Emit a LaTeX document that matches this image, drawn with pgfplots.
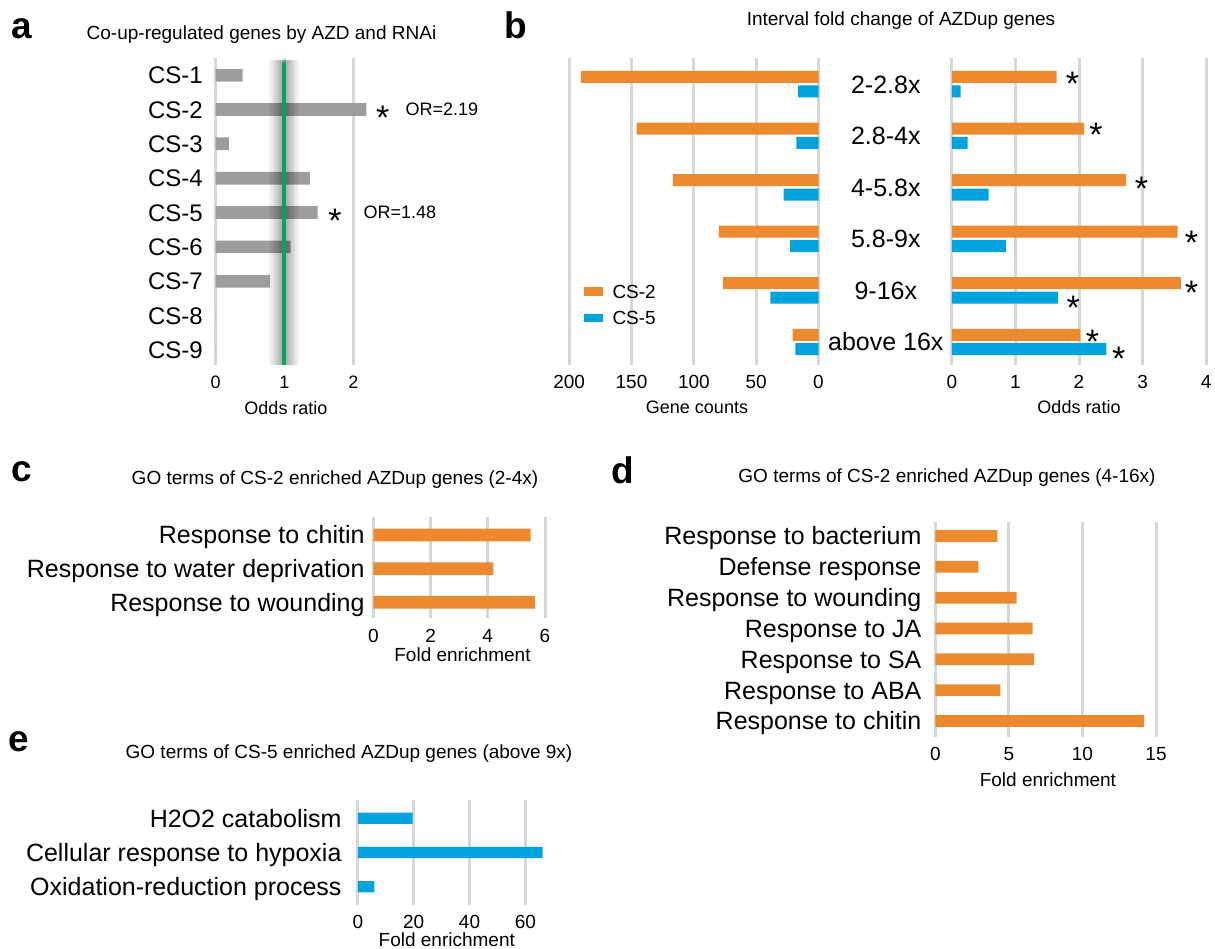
\documentclass[border=0pt]{standalone}
\usepackage{pgfplots}
\pgfplotsset{compat=1.18}
\usepackage{fontspec}
\setmainfont{Liberation Sans}
\definecolor{cor}{RGB}{237,138,47}
\definecolor{cbl}{RGB}{0,163,221}
\definecolor{cgr}{RGB}{157,157,157}
\definecolor{cgrid}{RGB}{213,217,213}
\definecolor{cgreen}{RGB}{0,168,84}
\newcommand{\fs}[1]{\fontsize{#1}{#1}\selectfont}
\pgfplotsset{
  panel/.style={
    scale only axis, anchor=north west,
    axis line style={draw=none},
    major tick length=0pt,
    xmajorgrids, ymajorgrids=false,
    major grid style={line width=3pt, color=cgrid},
    clip=false, enlargelimits=false,
    ytick pos=left, xtick pos=bottom,
    /pgf/number format/assume math mode=true,
    xticklabel style={font=\fs{19}, inner sep=0pt, anchor=north, text height=13.6pt, text depth=0pt, yshift=-10pt},
    yticklabel style={font=\fs{25}, inner sep=0pt, anchor=east, text height=17.9pt, text depth=0pt},
  },
  bars/.style={xbar, bar shift=0pt, bar width=12pt, draw=none},
  shade/.style={black, opacity=0.045, line width=#1},
}
\tikzset{
  star/.style={font=\fs{34}, anchor=base, inner sep=0pt, yshift=-19.5pt},
  lab/.style={inner sep=0pt, anchor=center, text depth=0pt},
  letter/.style={inner sep=0pt, anchor=base west, font=\fs{37}\bfseries},
}
\begin{document}
\begin{tikzpicture}
\path[use as bounding box] (0pt,0pt) rectangle (1215pt,-949pt);

% ---------- panel a ----------
\begin{axis}[panel, at={(215.7pt,-58pt)}, width=192.6pt, height=307pt,
  xmin=0, xmax=2.8, ymin=-9.44, ymax=-0.5,
  xtick={0,1,2}, ytick={-9,-8,-7,-6,-5,-4,-3,-2,-1},
  yticklabels={CS-9,CS-8,CS-7,CS-6,CS-5,CS-4,CS-3,CS-2,CS-1},
  yticklabel style={font=\fs{24}, text height=17.2pt, xshift=-12.7pt},
  xticklabel style={font=\fs{18}, text height=12.9pt}]
\addplot[bars, fill=cgr, bar width=12.7pt] coordinates {(0.39,-1) (2.19,-2) (0.19,-3) (1.37,-4) (1.48,-5) (1.09,-6) (0.79,-7) (0,-8) (0,-9)};
\addplot[shade=30pt] coordinates {(1,-0.55) (1,-9.44)};
\addplot[shade=26pt] coordinates {(1,-0.55) (1,-9.44)};
\addplot[shade=22pt] coordinates {(1,-0.55) (1,-9.44)};
\addplot[shade=19pt] coordinates {(1,-0.55) (1,-9.44)};
\addplot[shade=16pt] coordinates {(1,-0.55) (1,-9.44)};
\addplot[shade=13pt] coordinates {(1,-0.55) (1,-9.44)};
\addplot[shade=10pt] coordinates {(1,-0.55) (1,-9.44)};
\addplot[shade=8pt] coordinates {(1,-0.55) (1,-9.44)};
\addplot[cgreen, line width=4pt] coordinates {(1,-0.616) (1,-9.44)};
\node[star] at (axis cs:2.427,-2) {*};
\node[lab, font=\fs{18}, text height=12.9pt] at (axis cs:3.289,-2) {OR=2.19};
\node[star] at (axis cs:1.734,-5) {*};
\node[lab, font=\fs{18}, text height=12.9pt] at (axis cs:2.679,-5) {OR=1.48};
\end{axis}

% ---------- panel b left ----------
\begin{axis}[panel, at={(569.2pt,-58pt)}, width=249.3pt, height=307pt,
  xmin=-200, xmax=0, ymin=-6.446, ymax=-0.492,
  xtick={-200,-150,-100,-50,0}, xticklabels={200,150,100,50,0}, ytick=\empty,
  legend cell align=left,
  legend image code/.code={\fill[#1] (0pt,-4.15pt) rectangle (19pt,4.15pt);},
  legend style={draw=none, fill=none, at={(axis description cs:0.0566,0.196)}, anchor=west,
    font=\fs{19}, row sep=13pt, column sep=10pt, inner sep=0pt,
    nodes={inner sep=0pt, text height=13.6pt, text depth=0pt}}]
\addplot[bars, fill=cor] coordinates {(-190.6,-0.86) (-146,-1.86) (-116.8,-2.86) (-80,-3.86) (-76.7,-4.86) (-20.8,-5.86)};
\addplot[bars, fill=cbl] coordinates {(-16.4,-1.14) (-17.8,-2.14) (-28,-3.14) (-23,-4.14) (-38.7,-5.14) (-18.6,-6.14)};
\legend{CS-2,CS-5}
\end{axis}

% ---------- panel b right ----------
\begin{axis}[panel, at={(951.8pt,-58pt)}, width=254.4pt, height=307pt,
  xmin=0, xmax=4, ymin=-6.446, ymax=-0.492,
  xtick={0,1,2,3,4}, ytick={-6,-5,-4,-3,-2,-1},
  yticklabels={above 16x,9-16x,5.8-9x,4-5.8x,2.8-4x,2-2.8x},
  yticklabel style={anchor=center, xshift=-66pt}]
\addplot[bars, fill=cor] coordinates {(1.65,-0.86) (2.08,-1.86) (2.74,-2.86) (3.55,-3.86) (3.60,-4.86) (2.02,-5.86)};
\addplot[bars, fill=cbl] coordinates {(0.14,-1.14) (0.25,-2.14) (0.58,-3.14) (0.85,-4.14) (1.67,-5.14) (2.43,-6.14)};
\node[star] at (axis cs:1.896,-0.841) {*};
\node[star] at (axis cs:2.267,-1.830) {*};
\node[star] at (axis cs:2.984,-2.877) {*};
\node[star] at (axis cs:3.770,-3.925) {*};
\node[star] at (axis cs:3.770,-4.895) {*};
\node[star] at (axis cs:1.910,-5.185) {*};
\node[star] at (axis cs:2.211,-5.845) {*};
\node[star] at (axis cs:2.626,-6.175) {*};
\end{axis}

% ---------- panel c ----------
\begin{axis}[panel, at={(373.3pt,-516.7pt)}, width=171.7pt, height=101.6pt,
  xmin=0, xmax=6, ymin=-3.475, ymax=-0.456,
  xtick={0,2,4,6}, ytick={-3,-2,-1},
  yticklabels={Response to wounding,Response to water deprivation,Response to chitin},
  yticklabel style={xshift=-8.5pt}]
\addplot[bars, fill=cor, bar width=12.7pt] coordinates {(5.5,-1) (4.2,-2) (5.65,-3)};
\end{axis}

% ---------- panel d ----------
\begin{axis}[panel, at={(935.3pt,-521.7pt)}, width=220.7pt, height=215pt,
  xmin=0, xmax=15, ymin=-7.509, ymax=-0.536,
  xtick={0,5,10,15}, ytick={-7,-6,-5,-4,-3,-2,-1},
  yticklabels={Response to chitin,Response to ABA,Response to SA,Response to JA,Response to wounding,Defense response,Response to bacterium},
  yticklabel style={xshift=-13.7pt}]
\addplot[bars, fill=cor, bar width=11.7pt] coordinates {(4.21,-1) (2.93,-2) (5.52,-3) (6.61,-4) (6.71,-5) (4.42,-6) (14.2,-7)};
\end{axis}

% ---------- panel e ----------
\begin{axis}[panel, at={(357.8pt,-800pt)}, width=195.5pt, height=105pt,
  xmin=0, xmax=70, ymin=-3.535, ymax=-0.465,
  xtick={0,20,40,60}, ytick={-3,-2,-1},
  yticklabels={Oxidation-reduction process,Cellular response to hypoxia,H2O2 catabolism},
  yticklabel style={xshift=-16.1pt}]
\addplot[bars, fill=cbl, bar width=11.3pt] coordinates {(19.6,-1) (66.2,-2) (5.9,-3)};
\end{axis}

% ---------- titles, letters, axis labels ----------
\node[letter] at (11.5pt,-38.3pt) {a};
\node[letter] at (504pt,-38.3pt) {b};
\node[letter] at (11.5pt,-481.7pt) {c};
\node[letter] at (611.5pt,-483.3pt) {d};
\node[letter] at (8pt,-751.7pt) {e};

\node[lab, font=\fs{19}, text height=13.6pt] at (261.5pt,-33pt) {Co-up-regulated genes by AZD and RNAi};
\node[lab, font=\fs{19}, text height=13.6pt] at (901pt,-19pt) {Interval fold change of AZDup genes};
\node[lab, font=\fs{19}, text height=13.6pt] at (335pt,-477.5pt) {GO terms of CS-2 enriched AZDup genes (2-4x)};
\node[lab, font=\fs{19}, text height=13.6pt] at (947pt,-475.5pt) {GO terms of CS-2 enriched AZDup genes (4-16x)};
\node[lab, font=\fs{19}, text height=13.6pt] at (349pt,-751.7pt) {GO terms of CS-5 enriched AZDup genes (above 9x)};

\node[lab, font=\fs{18}, text height=12.9pt] at (286pt,-408pt) {Odds ratio};
\node[lab, font=\fs{18}, text height=12.9pt] at (697pt,-407pt) {Gene counts};
\node[lab, font=\fs{18}, text height=12.9pt] at (1079pt,-407pt) {Odds ratio};
\node[lab, font=\fs{19}, text height=13.6pt] at (462.5pt,-655pt) {Fold enrichment};
\node[lab, font=\fs{19}, text height=13.6pt] at (1047.9pt,-779.3pt) {Fold enrichment};
\node[lab, font=\fs{19}, text height=13.6pt] at (446.8pt,-940pt) {Fold enrichment};
\end{tikzpicture}
\end{document}
